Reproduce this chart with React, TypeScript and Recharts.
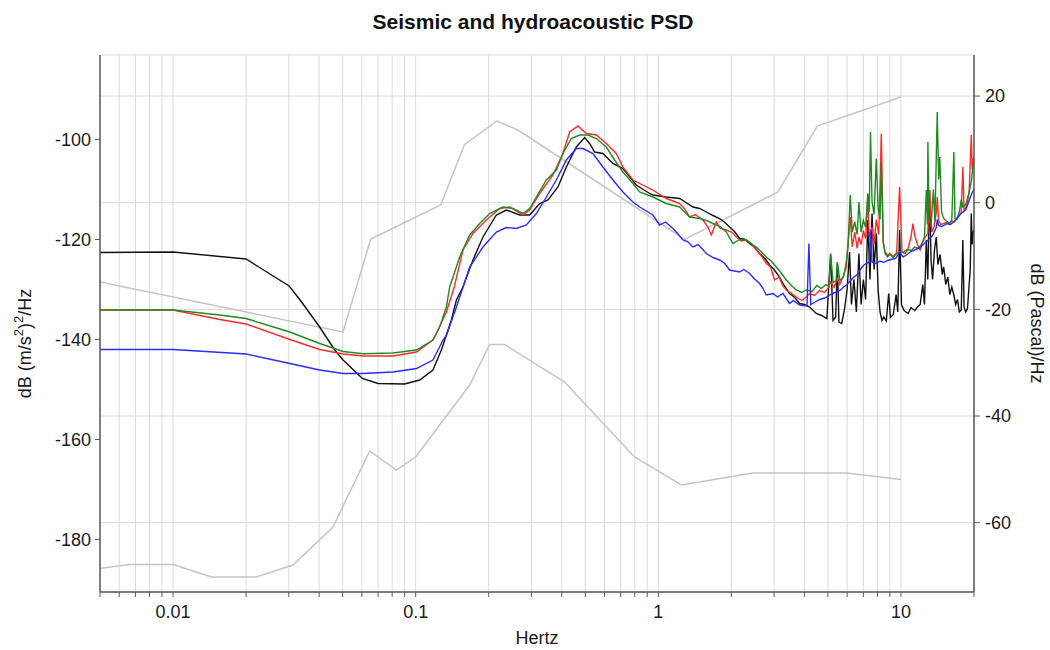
import React from 'react';
import { LineChart, Line, XAxis, YAxis, CartesianGrid, Label } from 'recharts';

const TITLE = 'Seismic and hydroacoustic PSD';
const X_LABEL = 'Hertz';
const RIGHT_LABEL = 'dB (Pascal)/Hz';

const X_TICKS = [
  0.005, 0.006, 0.007, 0.008, 0.009,
  0.01, 0.02, 0.03, 0.04, 0.05, 0.06, 0.07, 0.08, 0.09,
  0.1, 0.2, 0.3, 0.4, 0.5, 0.6, 0.7, 0.8, 0.9,
  1, 2, 3, 4, 5, 6, 7, 8, 9,
  10, 20,
];
const X_LABELED = [0.01, 0.1, 1, 10];
const LEFT_TICKS = [-100, -120, -140, -160, -180];
const RIGHT_TICKS = [20, 0, -20, -40, -60];
const X_DOMAIN = [0.005, 20];
const LEFT_DOMAIN = [-190.5, -83.1];
const RIGHT_DOMAIN = [-73, 27.7];

// High noise model (grey, upper)
const HIGH_MODEL: [number, number][] = [
  [0.005, -128.5], [0.0502, -138.5], [0.0653, -119.9], [0.1268, -113.1], [0.159, -101],
  [0.2163, -96.3], [0.2639, -98.1], [1.284, -120], [3.11, -110.5], [4.52, -97.3], [10, -91.5],
];

// Low noise model (grey, lower)
const LOW_MODEL: [number, number][] = [
  [0.005, -185.8], [0.0066, -185], [0.01, -185], [0.0144, -187.5], [0.022, -187.5],
  [0.0312, -185.1], [0.0456, -177.5], [0.0646, -162.3], [0.0833, -166.1], [0.1, -163.5],
  [0.1669, -149.1], [0.2018, -141], [0.2326, -141], [0.411, -148.5], [0.798, -163.5],
  [1.244, -169.1], [2.454, -166.7], [5.95, -166.7], [10, -168],
];

const BLACK: [number, number][] = [
  [0.005, -122.6], [0.01, -122.5], [0.02, -123.9], [0.0301, -129.3], [0.0334, -132.1],
  [0.0402, -137.5], [0.0464, -142.1], [0.0502, -144.1], [0.0603, -147.8], [0.07, -148.8],
  [0.09, -148.9], [0.1039, -148.1], [0.1178, -146.1], [0.1276, -142.1], [0.1403, -136.1],
  [0.1472, -132.1], [0.1566, -129.5], [0.1722, -124.1], [0.1894, -119.5], [0.215, -115.1],
  [0.2364, -114.1], [0.2683, -115.1], [0.2949, -115.1], [0.3244, -112.8], [0.3509, -112.1],
  [0.3858, -109.5], [0.4177, -105.5], [0.4593, -101.5], [0.497, -99.6], [0.5211, -100.8],
  [0.5464, -102.5], [0.591, -102.8], [0.6501, -104.8], [0.7146, -105.8], [0.8117, -109.1],
  [0.9207, -110.8], [0.95, -111.1], [1.079, -111.5], [1.224, -111.8], [1.3, -112.6],
  [1.388, -113.5], [1.48, -113.8], [1.577, -114.5], [1.68, -115.2], [1.789, -115.8],
  [1.88, -116.6], [1.967, -117.5], [2.06, -118.4], [2.163, -119.8], [2.26, -119.9],
  [2.378, -120.8], [2.5, -121.6], [2.615, -122.8], [2.75, -123.8], [2.874, -125.1],
  [3.0, -126.0], [3.161, -127.5], [3.3, -129.2], [3.475, -130.8], [3.65, -131.6],
  [3.821, -132.8], [4.0, -133.0], [4.202, -133.5], [4.477, -134.8], [4.7, -135.2],
  [4.95, -135.8], [5.13, -123], [5.25, -136.2], [5.38, -135.5], [5.47, -124.8],
  [5.55, -136.5], [5.7, -136.8], [5.85, -134], [6.0, -130], [6.14, -122.5], [6.25, -133],
  [6.4, -128], [6.55, -134.5], [6.71, -122.8], [6.85, -133], [7.0, -128], [7.15, -132],
  [7.3, -116.1], [7.45, -128], [7.6, -114.8], [7.75, -126], [7.91, -118.8], [8.05, -130],
  [8.2, -134.5], [8.35, -136.2], [8.5, -135.5], [8.7, -136.3], [8.9, -130.8], [9.05, -135.6],
  [9.3, -135], [9.55, -131], [9.7, -134.5], [9.87, -118.1], [10.05, -133], [10.3, -134.2],
  [10.7, -134.8], [11.0, -133.6], [11.4, -134.2], [11.7, -133.5], [12.0, -133], [12.3, -129],
  [12.5, -133], [12.72, -120.1], [12.9, -128], [13.12, -110.1], [13.3, -124], [13.5, -128],
  [13.75, -122], [13.98, -119.5], [14.2, -125], [14.5, -123], [14.8, -127], [15.0, -125.5],
  [15.3, -129], [15.6, -127.5], [15.9, -131], [16.2, -129.5], [16.5, -131], [16.8, -133],
  [17.1, -132], [17.4, -134.5], [17.72, -134.1], [17.99, -120.1], [18.2, -133.5],
  [18.5, -134.5], [18.8, -133.8], [19.1, -129], [19.3, -126], [19.49, -114.8], [19.65, -121],
  [19.78, -118.8], [20, -118],
];

const RED: [number, number][] = [
  [0.005, -134.1], [0.01, -134.1], [0.0156, -136.0], [0.02, -136.9], [0.0303, -140.0],
  [0.0402, -142.0], [0.0502, -142.9], [0.0606, -143.3], [0.0806, -143.3], [0.1007, -142.5],
  [0.1178, -140.1], [0.1217, -138.8], [0.1338, -134.5], [0.1442, -129.5], [0.1566, -122.1],
  [0.1722, -118.8], [0.1956, -116.1], [0.2219, -113.8], [0.244, -113.5], [0.2768, -115.1],
  [0.2949, -114.1], [0.3244, -110.8], [0.3679, -107.1], [0.4045, -102.8], [0.431, -98.5],
  [0.4663, -97.3], [0.505, -98.8], [0.5553, -99.1], [0.6104, -100.8], [0.6713, -102.8],
  [0.7146, -105.5], [0.7858, -108.1], [0.838, -108.8], [0.95, -110.1], [1.079, -111.8],
  [1.15, -112.3], [1.224, -112.8], [1.28, -113.8], [1.346, -115.5], [1.42, -115.0],
  [1.527, -116.1], [1.6, -117.5], [1.654, -119.1], [1.734, -116.5], [1.8, -117.8],
  [1.906, -118.1], [2.0, -118.5], [2.096, -119.5], [2.2, -120.3], [2.305, -120.1],
  [2.42, -120.8], [2.534, -122.1], [2.65, -123.2], [2.786, -124.8], [2.9, -125.5],
  [3.014, -128.1], [3.15, -127.5], [3.25, -129.2], [3.368, -130.1], [3.5, -130.6],
  [3.704, -131.5], [3.9, -132.2], [4.072, -131.5], [4.2, -130.8], [4.4, -131.2],
  [4.62, -130.2], [4.85, -130.6], [5.0, -129.8], [5.13, -128.5], [5.3, -129.6],
  [5.47, -127.8], [5.6, -129], [5.8, -127.2], [5.95, -125.5], [6.05, -121], [6.18, -115.5],
  [6.3, -121.5], [6.45, -118.5], [6.6, -121.8], [6.71, -119.5], [6.85, -121], [7.0, -118.2],
  [7.15, -119.8], [7.3, -112], [7.4, -119.5], [7.6, -117.5], [7.75, -121], [7.91, -116],
  [8.1, -119], [8.3, -98.8], [8.45, -120.5], [8.6, -122.5], [8.8, -123.2], [9.0, -122.8],
  [9.3, -123.4], [9.6, -122.6], [9.87, -109.5], [10.1, -122.5], [10.4, -122.8],
  [10.7, -121.8], [11.0, -119.5], [11.2, -116.8], [11.4, -119.2], [11.7, -121], [12.0, -122.1],
  [12.3, -120.5], [12.6, -119.5], [12.9, -118.8], [13.12, -110.1], [13.4, -118.5],
  [13.7, -117.4], [14.0, -114.5], [14.11, -111.5], [14.3, -116.2], [14.6, -117], [15.0, -116.8],
  [15.4, -116.6], [15.8, -117], [16.2, -116.3], [16.6, -116.5], [17.0, -115.8], [17.4, -115.2],
  [17.7, -114.8], [18.0, -105.5], [18.2, -114.2], [18.5, -113.6], [18.8, -112.5],
  [19.1, -110.5], [19.49, -99.1], [19.65, -106], [19.85, -104.1], [20, -103.5],
];

const GREEN: [number, number][] = [
  [0.005, -134.1], [0.01, -134.1], [0.0156, -135.1], [0.02, -135.8], [0.0303, -138.5],
  [0.0402, -140.8], [0.0502, -142.4], [0.0606, -142.85], [0.0806, -142.7], [0.1007, -142.1],
  [0.1178, -140.1], [0.1256, -137.5], [0.1338, -133.5], [0.1381, -129.5], [0.1518, -123.5],
  [0.1669, -119.1], [0.1835, -116.8], [0.2018, -114.8], [0.2289, -113.5], [0.2518, -113.8],
  [0.2768, -114.8], [0.2949, -113.8], [0.3144, -111.5], [0.3456, -108.1], [0.38, -106.1],
  [0.4045, -102.8], [0.438, -99.8], [0.4739, -99.1], [0.5128, -99.1], [0.5553, -99.8],
  [0.6104, -101.5], [0.6606, -104.1], [0.7146, -106.5], [0.7858, -108.8], [0.838, -110.5],
  [0.95, -111.5], [1.079, -112.8], [1.224, -113.5], [1.346, -115.5], [1.48, -115.8],
  [1.58, -116.2], [1.679, -116.8], [1.8, -117.4], [1.906, -118.5], [2.03, -120.8],
  [2.163, -120.0], [2.305, -120.1], [2.42, -120.9], [2.534, -121.5], [2.65, -122.4],
  [2.786, -123.5], [2.92, -124.3], [3.063, -125.5], [3.2, -126.6], [3.368, -128.1],
  [3.55, -129.3], [3.704, -130.1], [3.9, -130.6], [4.072, -130.1], [4.3, -130.4],
  [4.5, -129.2], [4.7, -129.8], [4.9, -129], [5.05, -129.3], [5.13, -122.8], [5.25, -128.6],
  [5.4, -128.2], [5.47, -124.5], [5.6, -128.2], [5.8, -127.5], [5.95, -124.5], [6.05, -121.5],
  [6.18, -111.1], [6.3, -118.5], [6.45, -116.5], [6.6, -119], [6.71, -112.5], [6.85, -118.5],
  [7.0, -116.2], [7.15, -117.5], [7.3, -110.8], [7.4, -114.5], [7.49, -98.5], [7.6, -112.5],
  [7.75, -115], [7.91, -103.8], [8.05, -113.5], [8.2, -116], [8.3, -104.5], [8.45, -120.5],
  [8.6, -122.8], [8.8, -123.5], [9.0, -123], [9.3, -123.6], [9.6, -122.8], [9.9, -122.5],
  [10.2, -122.6], [10.6, -122], [11.0, -122.2], [11.4, -121.5], [11.8, -121.8], [12.2, -120.8],
  [12.5, -119.5], [12.72, -110.1], [12.85, -117], [12.91, -100.5], [13.05, -116],
  [13.3, -117.5], [13.6, -110], [13.8, -116.5], [14.11, -94.5], [14.3, -108], [14.45, -103.5],
  [14.7, -114.5], [15.0, -115.8], [15.4, -116.3], [15.8, -116.7], [16.2, -116.2],
  [16.52, -102.5], [16.7, -115.8], [17.0, -116], [17.4, -114.5], [17.72, -112], [18.0, -113.5],
  [18.5, -113], [19.0, -111], [19.49, -108.5], [19.78, -105.5], [20, -104.5],
];

const BLUE: [number, number][] = [
  [0.005, -142], [0.01, -142], [0.02, -142.9], [0.0303, -144.8], [0.0402, -146.1],
  [0.0502, -146.8], [0.0606, -146.8], [0.0806, -146.5], [0.1007, -145.8], [0.1178, -144.1],
  [0.1296, -140.1], [0.1338, -139.2], [0.1472, -133.5], [0.1669, -125.5], [0.1894, -121.5],
  [0.215, -118.5], [0.2364, -117.6], [0.2601, -117.8], [0.2858, -117.1], [0.3144, -114.8],
  [0.3456, -111.5], [0.38, -108.1], [0.4177, -104.1], [0.4593, -101.8], [0.489, -101.8],
  [0.5377, -102.8], [0.591, -105.5], [0.6501, -108.1], [0.7146, -110.5], [0.7858, -112.5],
  [0.838, -113.5], [0.95, -115.1], [1.012, -117.1], [1.07, -116.5], [1.149, -117.8],
  [1.2, -118.8], [1.263, -120.1], [1.32, -120.4], [1.388, -121.5], [1.46, -121.0],
  [1.577, -122.8], [1.68, -123.6], [1.789, -124.1], [1.88, -124.8], [1.967, -126.1],
  [2.06, -126.3], [2.163, -126.5], [2.25, -126.0], [2.378, -126.8], [2.48, -127.8],
  [2.615, -128.8], [2.7, -129.8], [2.786, -131.1], [2.966, -130.8], [3.1, -131.5],
  [3.262, -130.8], [3.475, -132.8], [3.6, -132.2], [3.821, -133.1], [4.1, -133.3],
  [4.174, -120.8], [4.25, -133], [4.4, -132.6], [4.62, -132], [4.85, -131.7], [5.13, -131],
  [5.35, -130.6], [5.6, -130.2], [5.8, -129.5], [6.0, -129], [6.2, -128.2], [6.4, -127.5],
  [6.6, -127], [6.8, -126], [7.0, -125.2], [7.2, -124.8], [7.4, -124.6], [7.49, -118],
  [7.6, -124.5], [7.9, -124.8], [8.2, -124.3], [8.5, -124.6], [8.8, -124.2], [9.1, -124],
  [9.5, -123.8], [9.87, -122.5], [10.2, -123.5], [10.6, -123], [11.0, -122.4], [11.5, -122],
  [12.0, -121.6], [12.5, -120.8], [13.0, -120], [13.5, -119.2], [14.0, -117.5], [14.11, -116],
  [14.3, -117.2], [14.7, -117.4], [15.0, -117.2], [15.5, -116.8], [16.0, -117], [16.5, -116.5],
  [17.0, -115.8], [17.5, -115], [18.0, -114.5], [18.5, -114], [19.0, -112.5], [19.5, -111],
  [20, -110],
];

const toRows = (pairs: [number, number][]) => pairs.map(([f, v]) => ({ f, v }));

const FONT = '"Liberation Sans", Arial, Helvetica, sans-serif';
const FRAME = '#5a5a5a';
const GRID = '#d9d9d9';
const TICK_STYLE = { fontSize: 18, fill: '#1a1a1a', fontFamily: FONT };

const fmtX = (v: number) => {
  const hit = X_LABELED.find((t) => Math.abs(t - v) / t < 1e-6);
  return hit === undefined ? '' : String(hit);
};

const LeftLabel = (props: any) => {
  const vb = props.viewBox || { x: 0, y: 0, width: 0, height: 0 };
  const cx = 25;
  const cy = vb.y + vb.height / 2 + 20;
  return (
    <text
      x={cx}
      y={cy}
      transform={`rotate(-90 ${cx} ${cy})`}
      textAnchor="middle"
      dominantBaseline="central"
      fontSize={18}
      fontFamily={FONT}
      fill="#1a1a1a"
    >
      <tspan>dB (m/s</tspan>
      <tspan dy={-7} fontSize={13}>2</tspan>
      <tspan dy={7}>)</tspan>
      <tspan dy={-7} fontSize={13}>2</tspan>
      <tspan dy={7}>/Hz</tspan>
    </text>
  );
};

const RightLabel = (props: any) => {
  const vb = props.viewBox || { x: 0, y: 0, width: 0, height: 0 };
  const cx = 1037;
  const cy = vb.y + vb.height / 2;
  return (
    <text
      x={cx}
      y={cy}
      transform={`rotate(90 ${cx} ${cy})`}
      textAnchor="middle"
      dominantBaseline="central"
      fontSize={18}
      fontFamily={FONT}
      fill="#1a1a1a"
    >
      {RIGHT_LABEL}
    </text>
  );
};

export default function App() {
  return (
    <div style={{ position: 'absolute', left: 0, top: 0, width: 1050, height: 650, background: '#fff' }}>
      <div
        style={{
          position: 'absolute',
          left: 0,
          top: 10,
          width: 1066,
          textAlign: 'center',
          fontFamily: FONT,
          fontWeight: 'bold',
          fontSize: 21,
          color: '#111',
          lineHeight: '24px',
        }}
      >
        {TITLE}
      </div>
      <LineChart width={1050} height={650} margin={{ top: 55, right: 0, bottom: 0, left: 0 }}>
        <CartesianGrid xAxisId="x" yAxisId="right" stroke={GRID} strokeWidth={1} />
        <XAxis
          xAxisId="x"
          dataKey="f"
          type="number"
          scale="log"
          domain={X_DOMAIN}
          allowDataOverflow
          ticks={X_TICKS}
          interval={0}
          tickFormatter={fmtX}
          height={58}
          tickSize={5}
          tickMargin={8}
          tick={TICK_STYLE}
          stroke={FRAME}
          axisLine={{ stroke: FRAME, strokeWidth: 1.5 }}
          tickLine={{ stroke: FRAME }}
        >
          <Label value={X_LABEL} position="insideBottom" offset={6} style={{ fontSize: 18, fontFamily: FONT, fill: '#1a1a1a' }} />
        </XAxis>
        <XAxis
          xAxisId="top"
          orientation="top"
          dataKey="f"
          type="number"
          scale="log"
          domain={X_DOMAIN}
          allowDataOverflow
          height={0}
          tick={false}
          tickLine={false}
          axisLine={{ stroke: FRAME, strokeWidth: 1.5 }}
        />
        <YAxis
          yAxisId="left"
          type="number"
          domain={LEFT_DOMAIN}
          allowDataOverflow
          ticks={LEFT_TICKS}
          interval={0}
          width={100}
          tickSize={5}
          tickMargin={4}
          tick={TICK_STYLE}
          axisLine={{ stroke: FRAME, strokeWidth: 1.5 }}
          tickLine={{ stroke: FRAME }}
        >
          <Label content={LeftLabel} />
        </YAxis>
        <YAxis
          yAxisId="right"
          orientation="right"
          type="number"
          domain={RIGHT_DOMAIN}
          allowDataOverflow
          ticks={RIGHT_TICKS}
          interval={0}
          width={76}
          tickSize={6}
          tickMargin={5}
          tick={TICK_STYLE}
          axisLine={{ stroke: FRAME, strokeWidth: 1.5 }}
          tickLine={{ stroke: FRAME }}
        >
          <Label content={RightLabel} />
        </YAxis>
        <Line xAxisId="x" yAxisId="left" data={toRows(HIGH_MODEL)} dataKey="v" stroke="#c4c4c4" strokeWidth={1.5} dot={false} isAnimationActive={false} type="linear" />
        <Line xAxisId="x" yAxisId="left" data={toRows(LOW_MODEL)} dataKey="v" stroke="#c4c4c4" strokeWidth={1.5} dot={false} isAnimationActive={false} type="linear" />
        <Line xAxisId="x" yAxisId="left" data={toRows(BLACK)} dataKey="v" stroke="#111111" strokeWidth={1.4} dot={false} isAnimationActive={false} type="linear" />
        <Line xAxisId="x" yAxisId="left" data={toRows(RED)} dataKey="v" stroke="#ff2a2a" strokeWidth={1.4} dot={false} isAnimationActive={false} type="linear" />
        <Line xAxisId="x" yAxisId="left" data={toRows(GREEN)} dataKey="v" stroke="#1f8a1f" strokeWidth={1.4} dot={false} isAnimationActive={false} type="linear" />
        <Line xAxisId="x" yAxisId="left" data={toRows(BLUE)} dataKey="v" stroke="#2b2bff" strokeWidth={1.4} dot={false} isAnimationActive={false} type="linear" />
      </LineChart>
    </div>
  );
}
